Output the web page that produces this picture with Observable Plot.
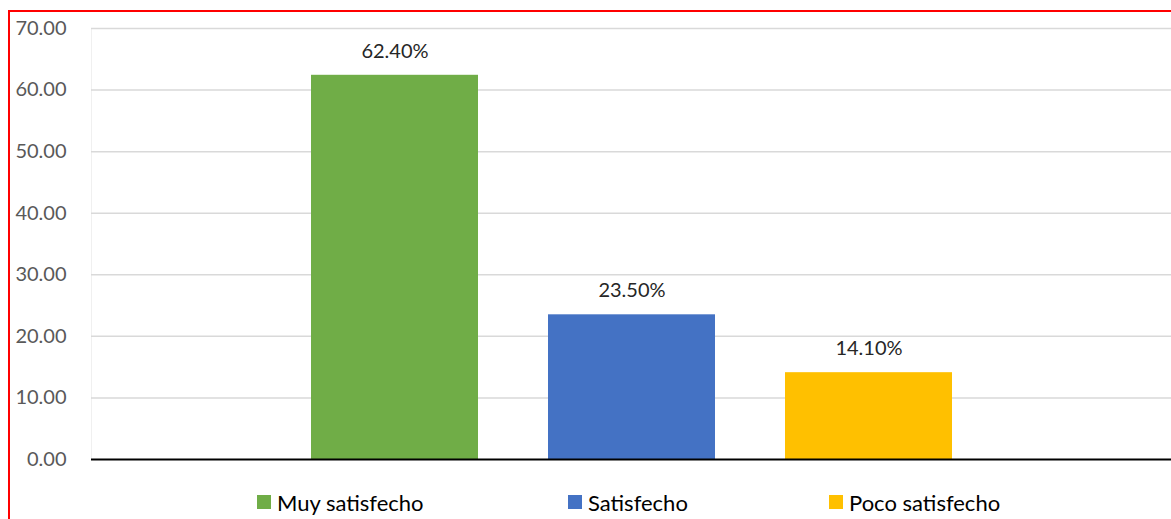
<!DOCTYPE html>
<html>
<head>
<meta charset="utf-8">
<script src="https://cdn.jsdelivr.net/npm/d3@7"></script>
<script src="https://cdn.jsdelivr.net/npm/@observablehq/plot@0.6"></script>
<style>
  html, body { margin: 0; padding: 0; background: #fff; overflow: hidden; }
  #wrap { position: relative; width: 1171px; height: 519px; font-family: Lato, "Liberation Sans", sans-serif; }
  #border { position: absolute; left: 8px; top: 10px; width: 1200px; height: 600px; border-left: 2px solid #ff0000; border-top: 2px solid #ff0000; box-sizing: border-box; pointer-events: none; }
  #chart { position: absolute; left: 0; top: 0; }
  #legend { position: absolute; left: 0; top: 484px; width: 1171px; height: 36px; }
  .item { position: absolute; top: 0; height: 36px; display: flex; align-items: center; font-size: 22px; color: #000; }
  .sw { width: 14px; height: 14px; margin-right: 6px; }
</style>
</head>
<body>
<div id="wrap">
  <div id="chart"></div>
  <div id="legend"></div>
  <div id="border"></div>
</div>
<script>
const categories = ["Muy satisfecho", "Satisfecho", "Poco satisfecho"];
const values = [62.4, 23.5, 14.1];
const colors = ["#70ad47", "#4472c4", "#ffc000"];
const yTicks = [0, 10, 20, 30, 40, 50, 60, 70];

const data = categories.map((c, i) => ({category: c, value: values[i], color: colors[i]}));

const chart = Plot.plot({
  width: 1171,
  height: 484,
  marginLeft: 91,
  marginRight: 0,
  marginTop: 28,
  marginBottom: 25,
  style: {fontFamily: "Lato, 'Liberation Sans', sans-serif", fontSize: "20px", background: "transparent"},
  x: {domain: categories, paddingInner: 0.297, paddingOuter: 0.924, axis: null},
  y: {domain: [0, 70], ticks: yTicks, tickFormat: d3.format(".2f"), tickSize: 0, tickPadding: 24, label: null},
  marks: [
    Plot.frame({stroke: "#f0f0f0", strokeWidth: 1}),
    Plot.ruleY(yTicks.filter(t => t > 0), {stroke: "#d9d9d9", strokeWidth: 1.5}),
    Plot.barY(data, {x: "category", y: "value", fill: "color"}),
    Plot.ruleY([0], {stroke: "#000", strokeWidth: 2}),
    Plot.text(data, {x: "category", y: "value", text: d => d.value.toFixed(2) + "%", dy: -24, fill: "#262626", fontSize: 20}),
    Plot.axisY({ticks: yTicks, tickFormat: d3.format(".2f"), tickSize: 0, tickPadding: 25, fill: "#595959", fontSize: 20, label: null})
  ]
});
document.getElementById("chart").appendChild(chart);

const legendLeft = [257, 568, 829];
const legend = document.getElementById("legend");
categories.forEach((c, i) => {
  const item = document.createElement("div");
  item.className = "item";
  item.style.left = legendLeft[i] + "px";
  const sw = document.createElement("span");
  sw.className = "sw";
  sw.style.background = colors[i];
  const label = document.createElement("span");
  label.textContent = c;
  item.appendChild(sw);
  item.appendChild(label);
  legend.appendChild(item);
});
</script>
</body>
</html>
